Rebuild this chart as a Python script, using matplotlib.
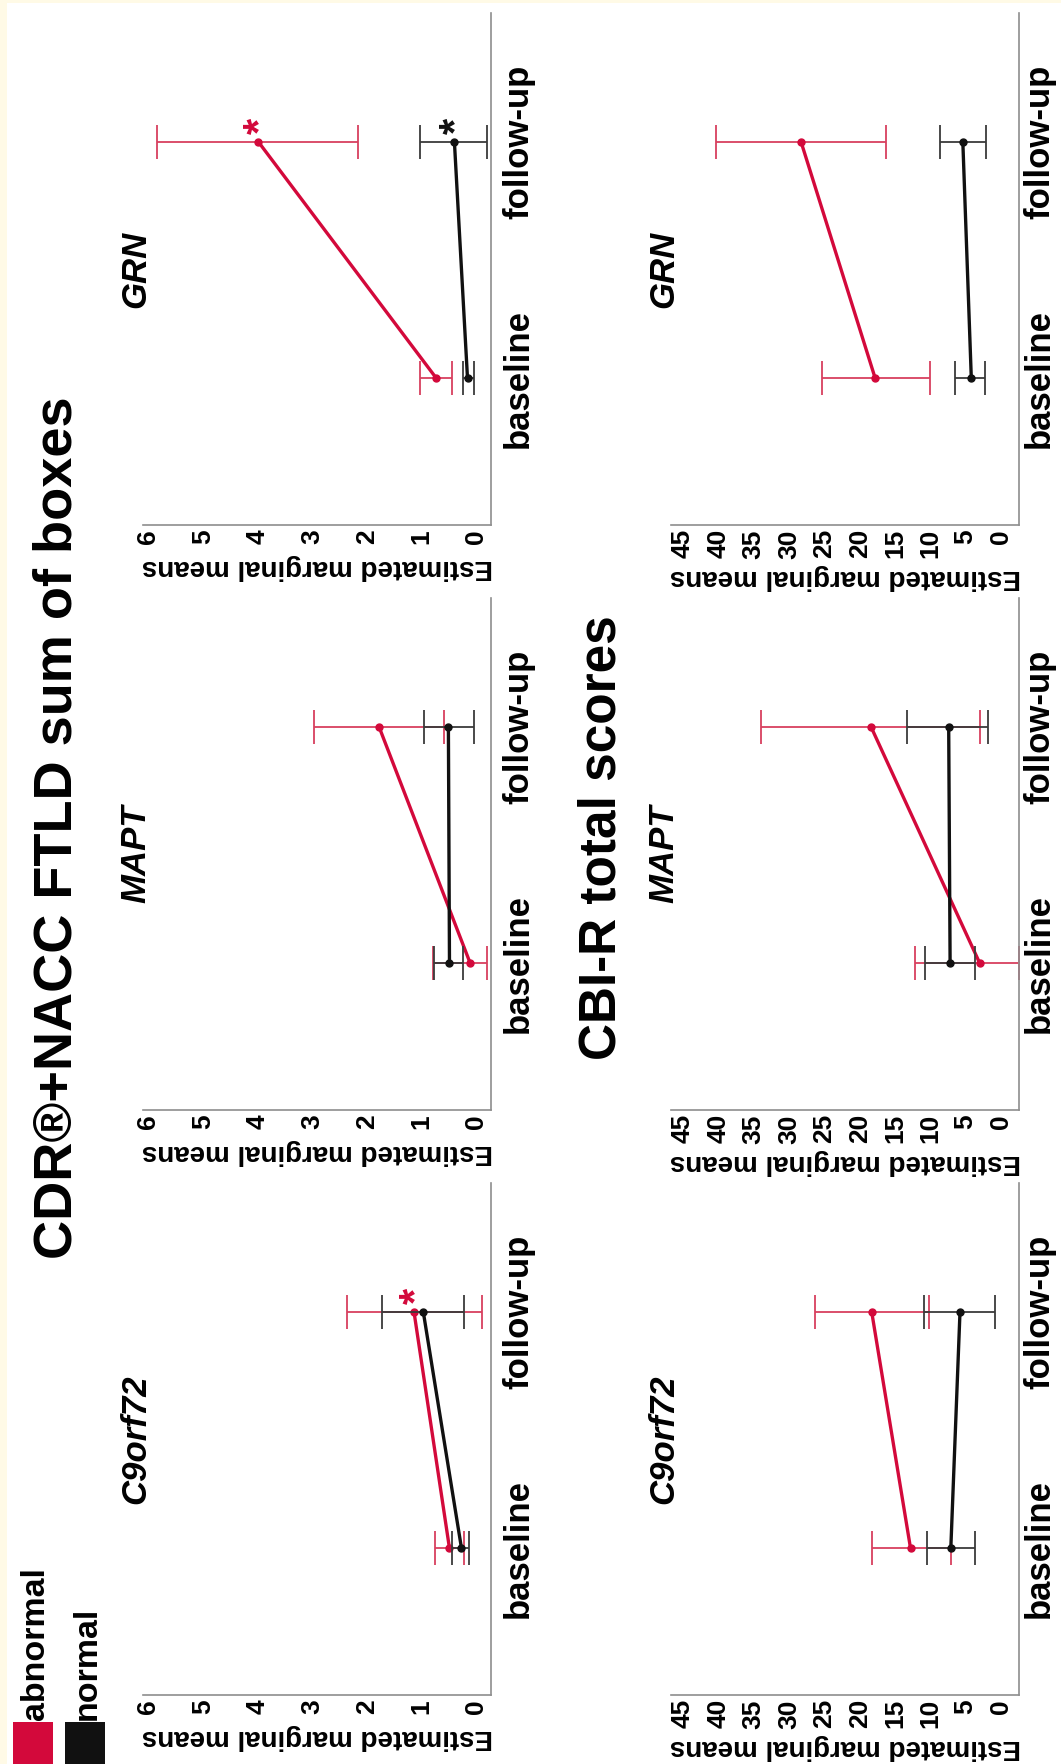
import numpy as np
import matplotlib.pyplot as plt
from matplotlib.patches import Rectangle

plt.rcParams['font.family'] = ['Liberation Sans', 'DejaVu Sans']

# panels from top to bottom (the figure is turned 90 degrees)
genes = ['GRN', 'MAPT', 'C9orf72']
timepoints = ['baseline', 'follow-up']
groups = ['abnormal', 'normal']

# CDR+NACC FTLD sum of boxes: [gene][baseline, follow-up]
cdr_abn_mean = [[0.73, 3.99], [0.11, 1.78], [0.49, 1.14]]
cdr_abn_low = [[0.44, 2.16], [-0.20, 0.59], [0.22, -0.11]]
cdr_abn_high = [[1.03, 5.84], [0.79, 2.97], [0.75, 2.36]]
cdr_nor_mean = [[0.16, 0.40], [0.49, 0.51], [0.27, 0.97]]
cdr_nor_low = [[0.04, -0.20], [0.24, 0.05], [0.13, 0.22]]
cdr_nor_high = [[0.24, 1.03], [0.77, 0.95], [0.44, 1.72]]
cdr_star_abn = [[False, True], [False, False], [False, True]]
cdr_star_nor = [[False, True], [False, False], [False, False]]
cdr_ticks = [0, 1, 2, 3, 4, 5, 6]

# CBI-R total scores
cbi_abn_mean = [[17.8, 28.3], [3.0, 18.4], [12.8, 18.3]]
cbi_abn_low = [[10.0, 16.3], [-2.5, 3.0], [7.1, 10.2]]
cbi_abn_high = [[25.4, 40.4], [12.1, 33.9], [18.3, 26.3]]
cbi_nor_mean = [[4.2, 5.4], [7.2, 7.4], [7.1, 5.8]]
cbi_nor_low = [[2.3, 2.1], [3.7, 1.8], [3.7, 0.85]]
cbi_nor_high = [[6.5, 8.6], [10.7, 13.3], [10.5, 10.9]]
cbi_star_abn = [[False, False], [False, False], [False, False]]
cbi_star_nor = [[False, False], [False, False], [False, False]]
cbi_ticks = [0, 5, 10, 15, 20, 25, 30, 35, 40, 45]

RED = '#d3093b'
RED_ERR = '#d8405f'
BLACK = '#111111'
BLACK_ERR = '#3a3a3a'
SPINE = '#8e8e8e'
CREAM = '#fffae6'

W, H = 1061, 1764


def px(x, y, w, h):
    # pixel box (from top-left) -> figure fraction
    return [x / W, 1 - (y + h) / H, w / W, h / H]


def panel(ax, gene, am, al, ah, nm, nl, nh, sa, sn, ticks, lims, catpad, labpad):
    cat = np.arange(len(timepoints))
    series = [(am, al, ah, sa, RED, RED_ERR), (nm, nl, nh, sn, BLACK, BLACK_ERR)]
    for mean, low, high, stars, col, ecol in series:
        mean = np.array(mean)
        low = np.array(low)
        high = np.array(high)
        ax.errorbar(mean, cat, xerr=[mean - low, high - mean], fmt='none',
                    ecolor=ecol, elinewidth=1.3, capsize=12, capthick=1.3)
        ax.plot(mean, cat, color=col, lw=2.4, marker='o', ms=5)
        for i in range(len(cat)):
            if stars[i]:
                ax.annotate('*', xy=(mean[i], cat[i]), xytext=(2, 11.5),
                            textcoords='offset points', rotation=90,
                            ha='center', va='center', fontsize=30,
                            fontweight='bold', color=col)
    ax.set_xlim(lims[1], lims[0])
    ax.set_ylim(-0.62, 1.544)
    for s in ['top', 'left']:
        ax.spines[s].set_visible(False)
    for s in ['bottom', 'right']:
        ax.spines[s].set_color(SPINE)
        ax.spines[s].set_linewidth(1.2)
    ax.yaxis.tick_right()
    ax.set_xticks(ticks)
    ax.set_xticklabels([str(t) for t in ticks], rotation=90, fontsize=19,
                       fontweight='bold')
    ax.set_yticks(cat)
    ax.set_yticklabels(timepoints, rotation=90, va='center', fontsize=25,
                       fontweight='bold')
    ax.tick_params(axis='x', length=0, pad=3)
    ax.tick_params(axis='y', length=0, pad=catpad)
    ax.set_xlabel('Estimated marginal means', rotation=180, fontsize=20,
                  fontweight='bold', labelpad=labpad)
    ax.text(0.006, 0.5, gene, transform=ax.transAxes, rotation=90,
            rotation_mode='anchor', ha='center', va='baseline', fontsize=25,
            fontweight='bold', style='italic')


fig = plt.figure(figsize=(W / 100, H / 100), dpi=100)
fig.patch.set_facecolor(CREAM)
fig.add_artist(Rectangle((7 / W, 0), 1 - 7 / W, 1 - 3 / H, transform=fig.transFigure,
                         facecolor='white', edgecolor='none', zorder=-10))

tops = [13, 598, 1183]
for g in range(len(genes)):
    ax = fig.add_axes(px(143, tops[g], 348, 512))
    panel(ax, genes[g], cdr_abn_mean[g], cdr_abn_low[g], cdr_abn_high[g],
          cdr_nor_mean[g], cdr_nor_low[g], cdr_nor_high[g],
          cdr_star_abn[g], cdr_star_nor[g], cdr_ticks, (-0.27, 6.1), 8, 7)
    ax.patch.set_alpha(0)
    ax2 = fig.add_axes(px(671, tops[g], 348, 512))
    panel(ax2, genes[g], cbi_abn_mean[g], cbi_abn_low[g], cbi_abn_high[g],
          cbi_nor_mean[g], cbi_nor_low[g], cbi_nor_high[g],
          cbi_star_abn[g], cbi_star_nor[g], cbi_ticks, (-2.55, 46.7), 3, 4)
    ax2.patch.set_alpha(0)

# section titles
fig.text(72 / W, 1 - 828 / H, 'CDR®+NACC FTLD sum of boxes', rotation=90,
         rotation_mode='anchor', ha='center', va='baseline', fontsize=39,
         fontweight='bold')
fig.text(615 / W, 1 - 838 / H, 'CBI-R total scores', rotation=90,
         rotation_mode='anchor', ha='center', va='baseline', fontsize=37,
         fontweight='bold')

# legend
leg_colors = [RED, BLACK]
leg_x = [13, 65]
for i in range(len(groups)):
    fig.add_artist(Rectangle((leg_x[i] / W, 0), 40 / W, 42 / H,
                             transform=fig.transFigure, facecolor=leg_colors[i],
                             edgecolor='none'))
    fig.text((leg_x[i] + 31) / W, 1 - 1720 / H, groups[i], rotation=90,
             rotation_mode='anchor', ha='left', va='baseline', fontsize=24.5,
             fontweight='bold')

fig.savefig('out.png', dpi=100, facecolor=fig.get_facecolor())
